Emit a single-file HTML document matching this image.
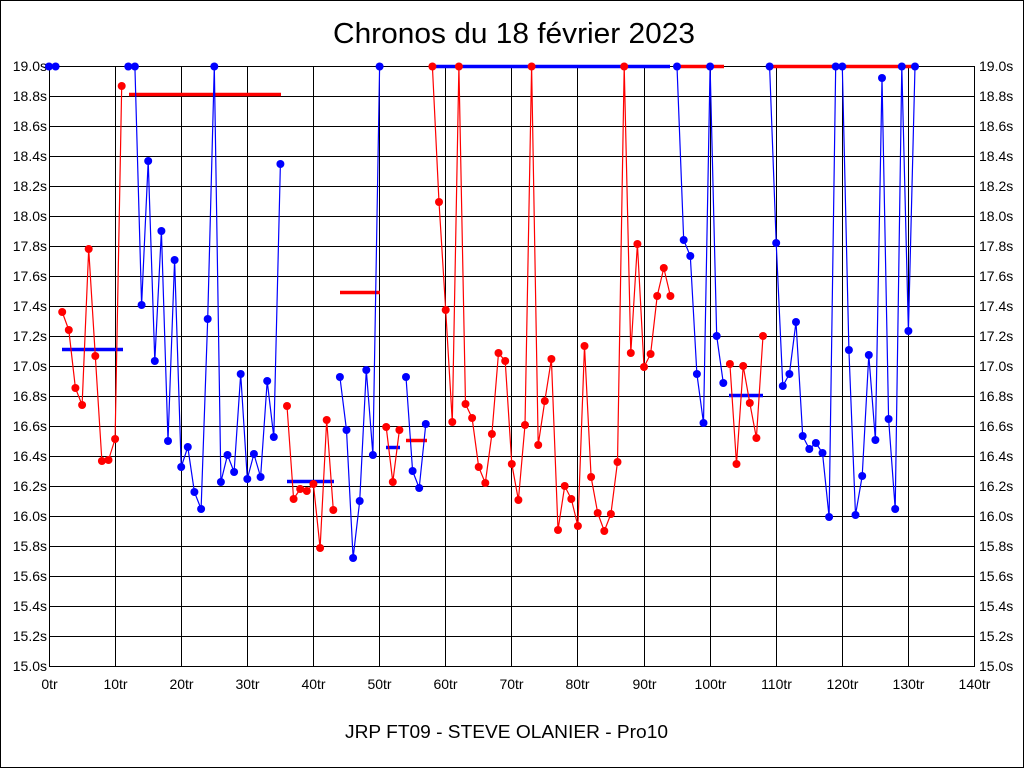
<!DOCTYPE html>
<html>
<head>
<meta charset="utf-8">
<style>
  html, body { margin: 0; padding: 0; background: #fff; }
  svg { display: block; }
  text { font-family: "Liberation Sans", Arial, sans-serif; fill: #000; }
</style>
</head>
<body>
<svg width="1024" height="768" viewBox="0 0 1024 768" xmlns="http://www.w3.org/2000/svg">
  <defs>
    <marker id="mb" markerUnits="userSpaceOnUse" markerWidth="10" markerHeight="10" refX="5" refY="5" overflow="visible">
      <circle cx="5" cy="5" r="4" fill="#0000ff"/>
    </marker>
    <marker id="mr" markerUnits="userSpaceOnUse" markerWidth="10" markerHeight="10" refX="5" refY="5" overflow="visible">
      <circle cx="5" cy="5" r="4" fill="#ff0000"/>
    </marker>
  </defs>

  <rect x="0" y="0" width="1024" height="768" fill="#fff"/>
  <rect x="0.5" y="0.5" width="1023" height="767" fill="none" stroke="#000" stroke-width="1"/>

  <!-- Title -->
  <text x="514" y="43" font-size="29" text-anchor="middle" textLength="362" lengthAdjust="spacingAndGlyphs">Chronos du 18 février 2023</text>
  <!-- Footer -->
  <text x="506.5" y="738" font-size="18" text-anchor="middle" textLength="323" lengthAdjust="spacingAndGlyphs">JRP FT09 - STEVE OLANIER - Pro10</text>

  <!-- Grid -->
  <g stroke="#000" stroke-width="1" shape-rendering="crispEdges" fill="none">
    <rect x="49.5" y="66.5" width="925" height="600"/>
    <path d="M49.5 96.5H974.5M49.5 126.5H974.5M49.5 156.5H974.5M49.5 186.5H974.5M49.5 216.5H974.5M49.5 246.5H974.5M49.5 276.5H974.5M49.5 306.5H974.5M49.5 336.5H974.5M49.5 366.5H974.5M49.5 396.5H974.5M49.5 426.5H974.5M49.5 456.5H974.5M49.5 486.5H974.5M49.5 516.5H974.5M49.5 546.5H974.5M49.5 576.5H974.5M49.5 606.5H974.5M49.5 636.5H974.5"/>
    <path d="M115.5 66.5V666.5M181.5 66.5V666.5M247.5 66.5V666.5M313.5 66.5V666.5M379.5 66.5V666.5M445.5 66.5V666.5M511.5 66.5V666.5M577.5 66.5V666.5M644.5 66.5V666.5M710.5 66.5V666.5M776.5 66.5V666.5M842.5 66.5V666.5M908.5 66.5V666.5"/>
  </g>

  <!-- Left axis labels -->
  <g font-size="14" text-anchor="end">
    <text x="47" y="71">19.0s</text>
    <text x="47" y="101">18.8s</text>
    <text x="47" y="131">18.6s</text>
    <text x="47" y="161">18.4s</text>
    <text x="47" y="191">18.2s</text>
    <text x="47" y="221">18.0s</text>
    <text x="47" y="251">17.8s</text>
    <text x="47" y="281">17.6s</text>
    <text x="47" y="311">17.4s</text>
    <text x="47" y="341">17.2s</text>
    <text x="47" y="371">17.0s</text>
    <text x="47" y="401">16.8s</text>
    <text x="47" y="431">16.6s</text>
    <text x="47" y="461">16.4s</text>
    <text x="47" y="491">16.2s</text>
    <text x="47" y="521">16.0s</text>
    <text x="47" y="551">15.8s</text>
    <text x="47" y="581">15.6s</text>
    <text x="47" y="611">15.4s</text>
    <text x="47" y="641">15.2s</text>
    <text x="47" y="671">15.0s</text>
  </g>
  <!-- Right axis labels -->
  <g font-size="14" text-anchor="start">
    <text x="979" y="71">19.0s</text>
    <text x="979" y="101">18.8s</text>
    <text x="979" y="131">18.6s</text>
    <text x="979" y="161">18.4s</text>
    <text x="979" y="191">18.2s</text>
    <text x="979" y="221">18.0s</text>
    <text x="979" y="251">17.8s</text>
    <text x="979" y="281">17.6s</text>
    <text x="979" y="311">17.4s</text>
    <text x="979" y="341">17.2s</text>
    <text x="979" y="371">17.0s</text>
    <text x="979" y="401">16.8s</text>
    <text x="979" y="431">16.6s</text>
    <text x="979" y="461">16.4s</text>
    <text x="979" y="491">16.2s</text>
    <text x="979" y="521">16.0s</text>
    <text x="979" y="551">15.8s</text>
    <text x="979" y="581">15.6s</text>
    <text x="979" y="611">15.4s</text>
    <text x="979" y="641">15.2s</text>
    <text x="979" y="671">15.0s</text>
  </g>
  <!-- X axis labels -->
  <g font-size="14" text-anchor="middle">
    <text x="49.5" y="689">0tr</text>
    <text x="115.5" y="689">10tr</text>
    <text x="181.5" y="689">20tr</text>
    <text x="247.5" y="689">30tr</text>
    <text x="313.5" y="689">40tr</text>
    <text x="379.5" y="689">50tr</text>
    <text x="445.5" y="689">60tr</text>
    <text x="511.5" y="689">70tr</text>
    <text x="577.5" y="689">80tr</text>
    <text x="644.5" y="689">90tr</text>
    <text x="710.5" y="689">100tr</text>
    <text x="776.5" y="689">110tr</text>
    <text x="842.5" y="689">120tr</text>
    <text x="908.5" y="689">130tr</text>
    <text x="974.5" y="689">140tr</text>
  </g>

  <!-- Average lines -->
  <g stroke-width="3.5" fill="none">
    <path stroke="#ff0000" d="M50 66.5H57"/>
    <path stroke="#0000ff" d="M62 349.5H123"/>
    <path stroke="#ff0000" d="M129 94.5H281"/>
    <path stroke="#0000ff" d="M287 481.5H334"/>
    <path stroke="#ff0000" d="M340 292.5H380"/>
    <path stroke="#0000ff" d="M386 447.5H400"/>
    <path stroke="#ff0000" d="M406 440.5H427"/>
    <path stroke="#0000ff" d="M432 66.5H670"/>
    <path stroke="#ff0000" d="M677 66.5H724"/>
    <path stroke="#0000ff" d="M729 395.5H763"/>
    <path stroke="#ff0000" d="M769 66.5H914"/>
  </g>

  <!-- Series -->
  <g fill="none" stroke-width="1.2" stroke-linejoin="round">
    <polyline stroke="#0000ff" marker-start="url(#mb)" marker-mid="url(#mb)" marker-end="url(#mb)"
      points="49,66.5 55.6,66.5"/>
    <polyline stroke="#ff0000" marker-start="url(#mr)" marker-mid="url(#mr)" marker-end="url(#mr)"
      points="62.2,312 68.8,330 75.4,388 82.1,405 88.7,249 95.3,356 101.9,461 108.5,460 115.1,439 121.7,86"/>
    <polyline stroke="#0000ff" marker-start="url(#mb)" marker-mid="url(#mb)" marker-end="url(#mb)"
      points="128.3,66.5 134.9,66.5 141.6,305 148.2,161 154.8,361 161.4,231 168,441 174.6,260 181.2,467 187.8,447 194.4,492 201.1,509 207.7,319 214.3,66.5 220.9,482 227.5,455 234.1,472 240.7,374 247.3,479 253.9,454 260.6,477 267.2,381 273.8,437 280.4,164"/>
    <polyline stroke="#ff0000" marker-start="url(#mr)" marker-mid="url(#mr)" marker-end="url(#mr)"
      points="287,406 293.6,499 300.2,489 306.8,491 313.4,484 320.1,548 326.7,420 333.3,510"/>
    <polyline stroke="#0000ff" marker-start="url(#mb)" marker-mid="url(#mb)" marker-end="url(#mb)"
      points="339.9,377 346.5,430 353.1,558 359.7,501 366.3,370 372.9,455 379.6,66.5"/>
    <polyline stroke="#ff0000" marker-start="url(#mr)" marker-mid="url(#mr)" marker-end="url(#mr)"
      points="386.2,427 392.8,482 399.4,430"/>
    <polyline stroke="#0000ff" marker-start="url(#mb)" marker-mid="url(#mb)" marker-end="url(#mb)"
      points="406,377 412.6,471 419.2,488 425.8,424"/>
    <polyline stroke="#ff0000" marker-start="url(#mr)" marker-mid="url(#mr)" marker-end="url(#mr)"
      points="432.4,66.5 439,202 445.7,310 452.3,422 458.9,66.5 465.5,404 472.1,418 478.7,467 485.3,483 491.9,434 498.5,353 505.2,361 511.8,464 518.4,500 525,425 531.6,66.5 538.2,445 544.8,401 551.4,359 558,530 564.7,486 571.3,499 577.9,526 584.5,346 591.1,477 597.7,513 604.3,531 610.9,514 617.5,462 624.2,66.5 630.8,353 637.4,244 644,367 650.6,354 657.2,296 663.8,268 670.4,296"/>
    <polyline stroke="#0000ff" marker-start="url(#mb)" marker-mid="url(#mb)" marker-end="url(#mb)"
      points="677,66.5 683.7,240 690.3,256 696.9,374 703.5,423 710.1,66.5 716.7,336 723.3,383"/>
    <polyline stroke="#ff0000" marker-start="url(#mr)" marker-mid="url(#mr)" marker-end="url(#mr)"
      points="729.9,364 736.5,464 743.2,366 749.8,403 756.4,438 763,336"/>
    <polyline stroke="#0000ff" marker-start="url(#mb)" marker-mid="url(#mb)" marker-end="url(#mb)"
      points="769.6,66.5 776.2,243 782.8,386 789.4,374 796,322 802.7,436 809.3,449 815.9,443 822.5,453 829.1,517 835.7,66.5 842.3,66.5 848.9,350 855.5,515 862.2,476 868.8,355 875.4,440 882,78 888.6,419 895.2,509 901.8,66.5 908.4,331 915,66.5"/>
  </g>
</svg>
</body>
</html>
